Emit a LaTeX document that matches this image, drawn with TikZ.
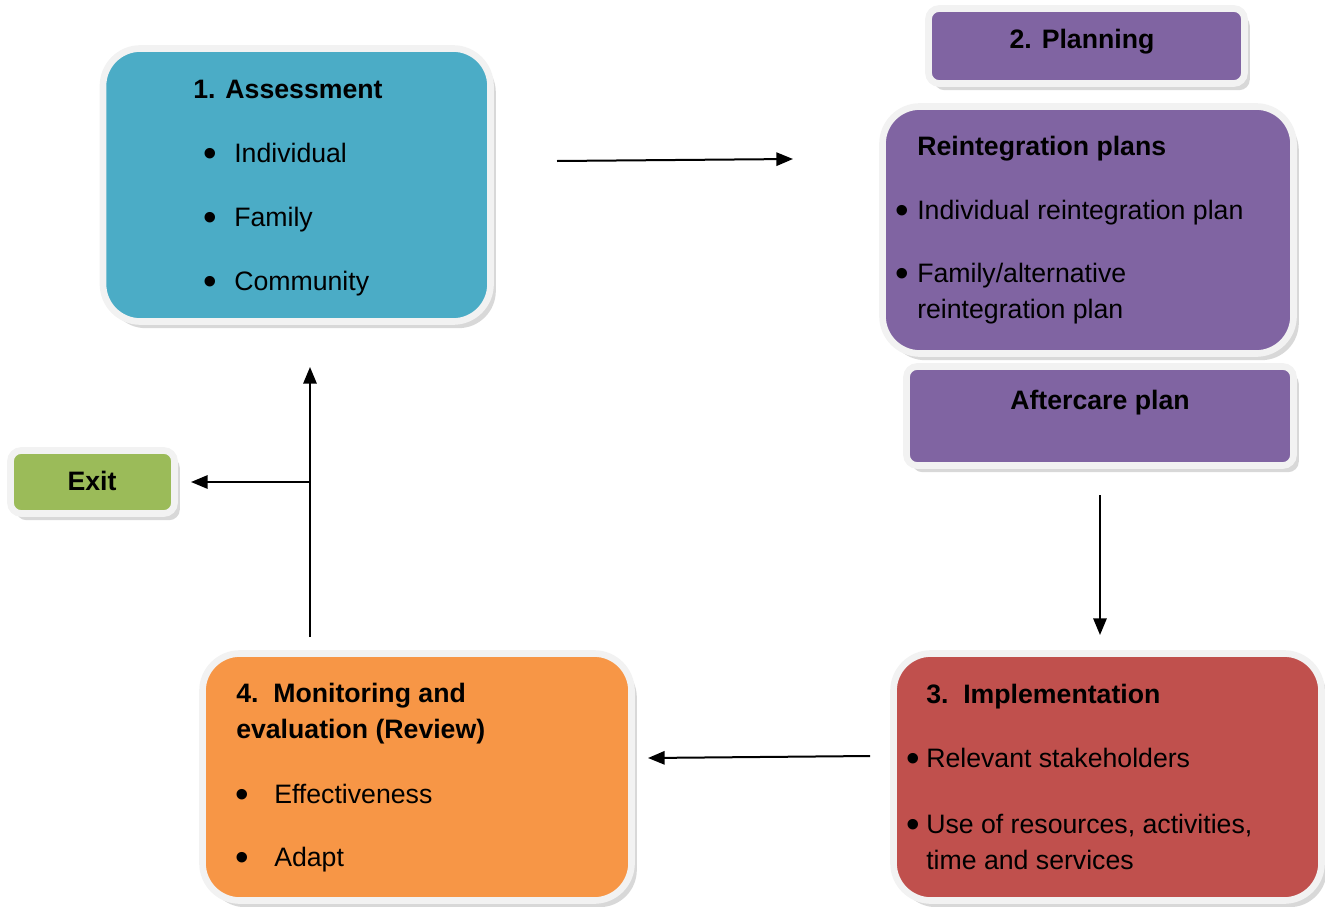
\documentclass[tikz,border=0pt]{standalone}
\usepackage{fontspec}
\setmainfont{Liberation Sans}
\usepackage{xcolor}
\usepackage{tikz}
\usetikzlibrary{fit}
\usetikzlibrary{shadows}
\usetikzlibrary{arrows.meta}

\definecolor{aqua}{HTML}{4BACC6}
\definecolor{plum}{HTML}{8064A2}
\definecolor{brick}{HTML}{C0504D}
\definecolor{tangerine}{HTML}{F79646}
\definecolor{olive}{HTML}{9BBB59}
\definecolor{frame}{HTML}{F2F2F2}

\newcommand{\bul}[1]{\makebox[#1][l]{\hspace*{-1.5pt}\raisebox{-3.2pt}{\fontsize{29}{27}\selectfont\textbullet}}}

\begin{document}
\begin{tikzpicture}
  [
    x=0.75pt, y=-0.75pt,
    box/.style={
       draw=frame,
       line width=5pt,
       inner sep=0pt,
       rounded corners=28pt,
       drop shadow={shadow xshift=4pt, shadow yshift=-5pt, fill=black!30}
    },
    smallbox/.style={
       box,
       rounded corners=8pt
    },
    txt/.style={
       inner sep=0pt,
       anchor=base west,
       align=left,
       font=\fontsize{20}{27}\selectfont
    },
    head/.style={
       txt,
       font=\fontsize{20}{27}\selectfont\bfseries
    },
    link/.style={
       draw=black,
       line width=1.5pt,
       -{Triangle[length=12.5pt,width=10pt]}
    }
  ]
  \useasboundingbox (0,0) rectangle (1325,907);

  \node (assess) [box, fill=aqua, fit={(103,48.5) (490.5,321.5)}] {};
  \node (plan)   [smallbox, fill=plum, fit={(928.5,8.5) (1244.5,83.5)}] {};
  \node (reint)  [box, fill=plum, fit={(882.5,106.5) (1293.5,353.5)}] {};
  \node (after)  [smallbox, fill=plum, fit={(906.5,366.5) (1293.5,465.5)}] {};
  \node (impl)   [box, fill=brick, fit={(893.5,653.5) (1321.5,900.5)}] {};
  \node (monit)  [box, fill=tangerine, fit={(202.5,653.5) (631.5,900.5)}] {};
  \node (exit)   [smallbox, fill=olive, fit={(10.5,450.5) (174.5,513.5)}] {};

  \node (assessHead) at (288,98)  [head, anchor=base] {1. Assessment};
  \node (assessA)    at (205,162) [txt] {\bul{21.75pt}Individual};
  \node (assessB)    at (205,226) [txt] {\bul{21.75pt}Family};
  \node (assessC)    at (205,290) [txt] {\bul{21.75pt}Community};

  \node (planHead)   at (1082,48) [head, anchor=base] {2. Planning};
  \node (reintHead)  at (917,155) [head] {Reintegration plans};
  \node (reintA)     at (897,219) [txt] {\bul{15pt}Individual reintegration plan};
  \node (reintB)     at (897,318) [txt] {\bul{15pt}Family/alternative\\\hspace*{15pt}reintegration plan};
  \node (afterHead)  at (1100,409) [head, anchor=base] {Aftercare plan};

  \node (implHead)   at (926,703) [head] {3.\ \ Implementation};
  \node (implA)      at (908,767) [txt] {\bul{13.5pt}Relevant stakeholders};
  \node (implB)      at (908,869) [txt] {\bul{13.5pt}Use of resources, activities,\\\hspace*{13.5pt}time and services};

  \node (monitHead)  at (236,738) [head] {4.\ \ Monitoring and\\evaluation (Review)};
  \node (monitA)     at (237,803) [txt] {\bul{27.75pt}Effectiveness};
  \node (monitB)     at (237,866) [txt] {\bul{27.75pt}Adapt};

  \node (exitHead)   at (92,490) [head, anchor=base] {Exit};

  \coordinate (toPlanS) at (557,161);
  \coordinate (toPlanE) at (793,159);
  \coordinate (toImplS) at (1100,495);
  \coordinate (toImplE) at (1100,635);
  \coordinate (toMonitS) at (870,756);
  \coordinate (toMonitE) at (648,758);
  \coordinate (toAssessS) at (310,637);
  \coordinate (toAssessE) at (310,367);
  \coordinate (split) at (310,482);
  \coordinate (toExitE) at (191,482);

  \draw [link] (toPlanS) -- (toPlanE);
  \draw [link] (toImplS) -- (toImplE);
  \draw [link] (toMonitS) -- (toMonitE);
  \draw [link] (toAssessS) -- (toAssessE);
  \draw [link] (split) -- (toExitE);
\end{tikzpicture}
\end{document}
